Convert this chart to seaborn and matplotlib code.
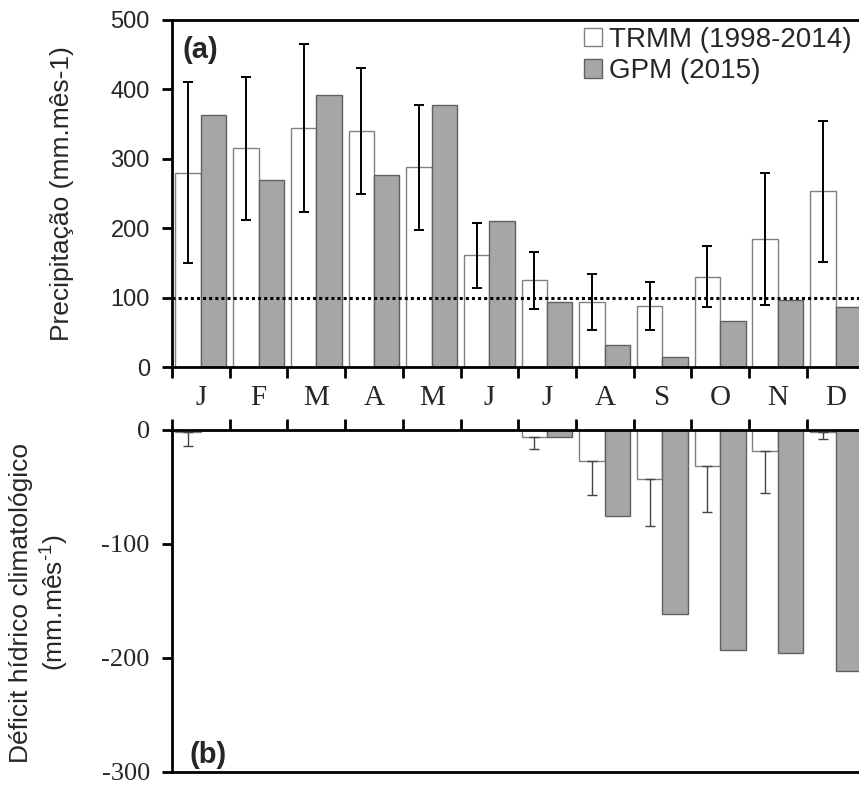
import matplotlib
matplotlib.use("Agg")
import numpy as np
import pandas as pd
import seaborn as sns
import matplotlib.pyplot as plt
from matplotlib.patches import Patch

# ---------------- data ----------------
months = ["Jan", "Feb", "Mar", "Apr", "May", "Jun",
          "Jul", "Aug", "Sep", "Oct", "Nov", "Dec"]
month_labels = ["J", "F", "M", "A", "M", "J", "J", "A", "S", "O", "N", "D"]
series_names = ["TRMM (1998-2014)", "GPM (2015)"]

trmm_precip = [280, 315, 344, 340, 288, 161, 125, 94, 88, 130, 184, 253]
trmm_precip_sd = [130, 103, 121, 91, 90, 47, 41, 40, 35, 44, 95, 102]
gpm_precip = [363, 269, 392, 276, 377, 210, 93, 32, 15, 67, 96, 86]

trmm_deficit = [-2, 0, 0, 0, 0, 0, -6, -27, -43, -32, -18, -2]
trmm_deficit_sd = [12, 0, 0, 0, 0, 0, 11, 30, 41, 40, 37, 6]
gpm_deficit = [0, 0, 0, 0, 0, 0, -6, -75, -161, -193, -196, -211]

precip_ticks = [0, 100, 200, 300, 400, 500]
deficit_ticks = [0, -100, -200, -300]
deficit_tick_labels = ["0", "-100", "-200", "-300"]
threshold = 100

# ---------------- style ----------------
sns.set_style("white")
plt.rcParams["font.family"] = ["Liberation Sans", "DejaVu Sans"]
plt.rcParams["axes.unicode_minus"] = False
plt.rcParams["mathtext.fontset"] = "custom"
plt.rcParams["mathtext.rm"] = "Liberation Sans"
plt.rcParams["mathtext.it"] = "Liberation Sans:italic"
plt.rcParams["mathtext.bf"] = "Liberation Sans:bold"

W, H = 859, 787
fig = plt.figure(figsize=(W / 100, H / 100), dpi=100)

left = 172 / W
ax1 = fig.add_axes([left, (H - 367) / H, 1 - left, 347 / H])
ax2 = fig.add_axes([left, (H - 772) / H, 1 - left, 342 / H])

palette = {series_names[0]: "white", series_names[1]: "#a6a6a6"}
edges = {series_names[0]: "#808080", series_names[1]: "#606060"}

df_p = pd.DataFrame({
    "month": months * 2,
    "source": [series_names[0]] * 12 + [series_names[1]] * 12,
    "value": trmm_precip + gpm_precip,
})
df_d = pd.DataFrame({
    "month": months * 2,
    "source": [series_names[0]] * 12 + [series_names[1]] * 12,
    "value": trmm_deficit + gpm_deficit,
})

for ax, df in ((ax1, df_p), (ax2, df_d)):
    sns.barplot(data=df, x="month", y="value", hue="source", order=months,
                hue_order=series_names, palette=palette, saturation=1,
                width=0.88, errorbar=None, linewidth=1.0, legend=False, ax=ax)
    for cont, name in zip(ax.containers, series_names):
        for p in cont:
            p.set_edgecolor(edges[name])

# error bars from bar geometry
xs1 = [p.get_x() + p.get_width() / 2 for p in ax1.containers[0]]
ax1.errorbar(xs1, trmm_precip, yerr=trmm_precip_sd, fmt="none",
             ecolor="black", elinewidth=1.4, capsize=3.5, capthick=1.4, zorder=5)

xs2 = [p.get_x() + p.get_width() / 2 for p in ax2.containers[0]]
sel = [i for i, s in enumerate(trmm_deficit_sd) if s > 0]
ax2.errorbar([xs2[i] for i in sel], [trmm_deficit[i] for i in sel],
             yerr=[[trmm_deficit_sd[i] for i in sel], [0] * len(sel)],
             fmt="none", ecolor="#444444", elinewidth=1.0, capsize=3.5,
             capthick=1.0, zorder=5)

ax1.axhline(threshold, color="black", ls=(0, (1, 1)), lw=2.2, zorder=6)

xmax = -0.5 + (W - 172) / 57.7
bounds = np.arange(-0.5, 11.0, 1.0)
for ax in (ax1, ax2):
    ax.set_xlim(-0.5, xmax)
    ax.set_xlabel("")
    ax.set_ylabel("")
    ax.spines["right"].set_visible(False)
    for s in ("left", "top", "bottom"):
        ax.spines[s].set_linewidth(2.0)
        ax.spines[s].set_color("black")
    ax.set_xticks(bounds, minor=True)
    ax.tick_params(axis="y", direction="out", length=7, width=2, left=True,
                   color="black")

# top panel
ax1.set_ylim(0, 500)
ax1.set_yticks(precip_ticks)
ax1.tick_params(axis="y", labelsize=17, pad=9)
ax1.set_xticks(range(12))
ax1.set_xticklabels(month_labels, family=["Liberation Serif", "DejaVu Serif"],
                    fontsize=21)
ax1.tick_params(axis="x", which="major", length=0, pad=13)
ax1.tick_params(axis="x", which="minor", direction="out", length=8, width=2,
                bottom=True, color="black")

# bottom panel
ax2.set_ylim(-300, 0)
ax2.set_yticks(deficit_ticks)
ax2.set_yticklabels(deficit_tick_labels,
                    family=["Liberation Serif", "DejaVu Serif"], fontsize=19)
ax2.tick_params(axis="y", pad=9)
ax2.xaxis.set_ticks_position("top")
ax2.set_xticks([])
ax2.set_xticks(bounds, minor=True)
ax2.tick_params(axis="x", which="minor", direction="out", length=8, width=2,
                top=True, bottom=False, color="black")

# panel letters
ax1.text(0.016, 0.955, "(a)", transform=ax1.transAxes, ha="left", va="top",
         fontsize=21, fontweight="bold")
ax2.text(0.025, 0.01, "(b)", transform=ax2.transAxes, ha="left", va="bottom",
         fontsize=21, fontweight="bold")

# legend
handles = [Patch(facecolor=palette[n], edgecolor=edges[n], linewidth=1.0)
           for n in series_names]
ax1.legend(handles, series_names, loc="upper right", bbox_to_anchor=(1.0, 1.0),
           frameon=False, fontsize=20, handlelength=0.65, handleheight=0.65,
           handletextpad=0.25, labelspacing=0.2, borderaxespad=0.05,
           borderpad=0.2)

# y labels
fig.text(62 / W, 1 - 194 / H, "Precipitação (mm.mês-1)", rotation=90,
         ha="center", va="center", fontsize=19)
fig.text(40 / W, 1 - 603 / H,
         "Déficit hídrico climatológico\n(mm.mês$^{\\text{-1}}$)",
         rotation=90, ha="center", va="center", fontsize=19,
         multialignment="center", linespacing=1.2)

fig.savefig("out.png", dpi=100)
